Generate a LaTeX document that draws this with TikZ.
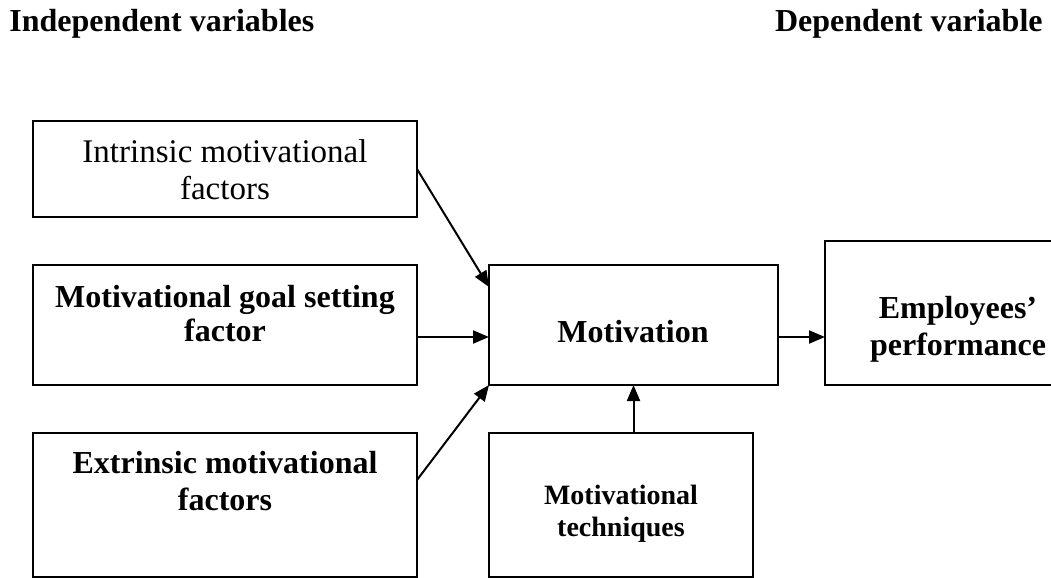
\documentclass[tikz,border=0pt]{standalone}
\usepackage{fontspec}
\newfontfamily\timesfont{Liberation Serif}
\usetikzlibrary{arrows.meta,positioning,calc}

\begin{document}
\begin{tikzpicture}[x=0.5pt,y=-0.5pt,
        box/.style={draw, line width=0.75pt, inner sep=0pt, outer sep=0pt},
        bold/.style={font=\timesfont\bfseries\fontsize{16}{18.5}\selectfont, align=center, inner sep=0pt},
        plain/.style={font=\timesfont\fontsize{16.5}{18.5}\selectfont, align=center, inner sep=0pt},
        arr/.style={-{Triangle[length=8pt,width=6.5pt]}, line width=1pt}]
        \useasboundingbox (0,0) rectangle (1051,578);

        \node[bold, anchor=base west] (indep) at (9,32) {Independent variables};
        \node[bold, anchor=base east] (dep) at (1043,32) {Dependent variable};

        \node[box, minimum width=192pt, minimum height=48pt] (intr) at (225,169) {};
        \node[box, minimum width=192pt, minimum height=60pt] (goal) at (225,325) {};
        \node[box, minimum width=192pt, minimum height=72pt] (extr) at (225,505) {};
        \node[box, minimum width=144.5pt, minimum height=60pt] (motiv) at (633.5,325) {};
        \node[box, minimum width=132pt, minimum height=72pt] (tech) at (621,505) {};
        \node[box, minimum width=133pt, minimum height=72pt] (empl) at (958,313) {};

        \node[plain] (intrtext) at (225,170) {Intrinsic motivational\\factors};
        \node[bold, font=\timesfont\bfseries\fontsize{16}{17}\selectfont] (goaltext) at (225,314) {Motivational goal setting\\factor};
        \node[bold] (extrtext) at (225,481) {Extrinsic motivational\\factors};
        \node[bold] (motivtext) at (633,332) {Motivation};
        \node[bold, font=\timesfont\bfseries\fontsize{14}{16}\selectfont] (techtext) at (621,514) {Motivational\\techniques};
        \node[bold] (empltext) at (958,329) {Employees’\\performance};

        \coordinate (m1) at ($(motiv.north west)+(0,22)$);
        \coordinate (m2) at ($(motiv.west)+(0,12)$);
        \coordinate (m3) at ($(motiv.east)+(0,12)$);
        \coordinate (e1) at ($(extr.east)+(0,-25)$);

        \draw[arr] (intr.east) -- (m1);
        \draw[arr] (goal.east |- m2) -- (m2);
        \draw[arr] (e1) -- (motiv.south west);
        \draw[arr] (tech.north -| motiv.south) -- (motiv.south);
        \draw[arr] (m3) -- (empl.west |- m3);
\end{tikzpicture}
\end{document}
